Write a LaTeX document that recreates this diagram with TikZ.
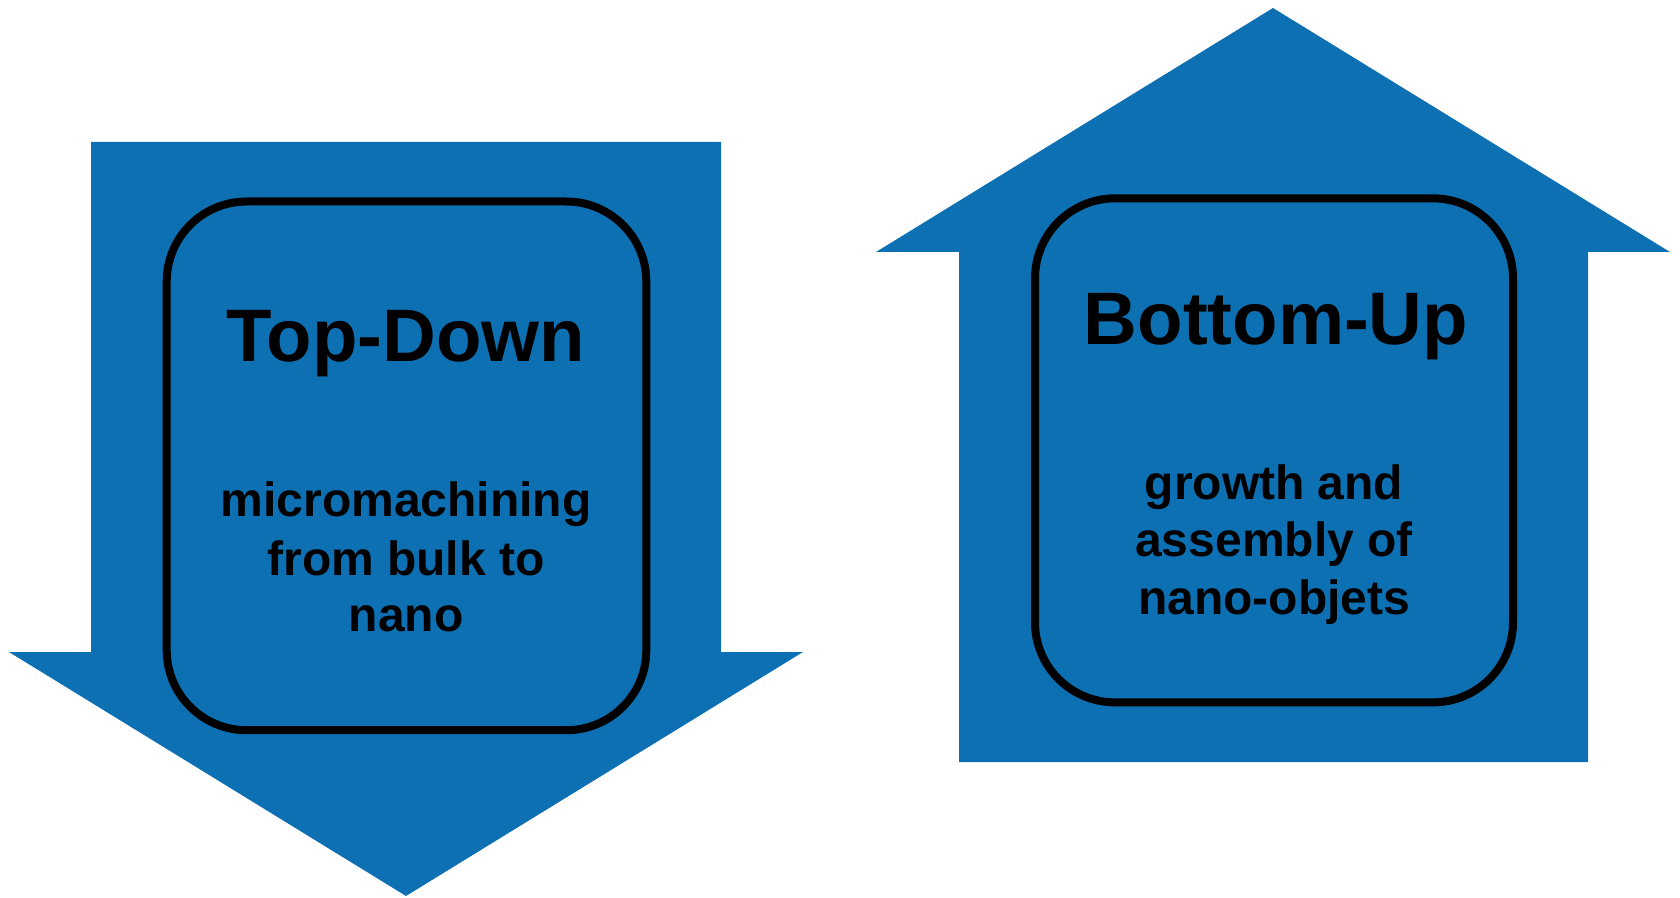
\documentclass[tikz,border=0pt]{standalone}
\usepackage{fontspec}
\setmainfont{Liberation Sans}
\definecolor{arrowblue}{RGB}{13,112,179}
\begin{document}
\begin{tikzpicture}[x=0.5pt,y=-0.5pt,
  bigarrow/.style={fill=arrowblue,draw=none},
  roundbox/.style={draw=black,line width=4pt,rounded corners=40pt,inner sep=0pt},
  title/.style={font=\fontsize{37.2}{40}\selectfont\bfseries,anchor=base,inner sep=0pt},
  body/.style={font=\fontsize{24}{28.5}\selectfont\bfseries,anchor=base,inner sep=0pt}]
\useasboundingbox (0,0) rectangle (1680,898);
% left arrow (down)
\fill[arrowblue] (91,142) -- (721,142) -- (721,652) -- (803,652) -- (406,896) -- (9,652) -- (91,652) -- cycle;
% right arrow (up)
\fill[arrowblue] (1273,8) -- (1670,252) -- (1588,252) -- (1588,762) -- (959,762) -- (959,252) -- (876,252) -- cycle;
\node[roundbox,minimum width=239.8pt,minimum height=264.35pt] (tdbox) at (406.5,465.85) {};
\node[roundbox,minimum width=239pt,minimum height=252pt] (bubox) at (1274,450.35) {};
\node[title] (tdtitle) at (406,362) {Top-Down};
\node[body] (td1) at (406,516) {micromachining};
\node[body] (td2) at (406,575) {from bulk to};
\node[body] (td3) at (406,631) {nano};
\node[title] (butitle) at (1276,345) {Bottom-Up};
\node[body] (bu1) at (1274,499) {growth and};
\node[body] (bu2) at (1274,556) {assembly of};
\node[body] (bu3) at (1274,614) {nano-objets};
\end{tikzpicture}
\end{document}
